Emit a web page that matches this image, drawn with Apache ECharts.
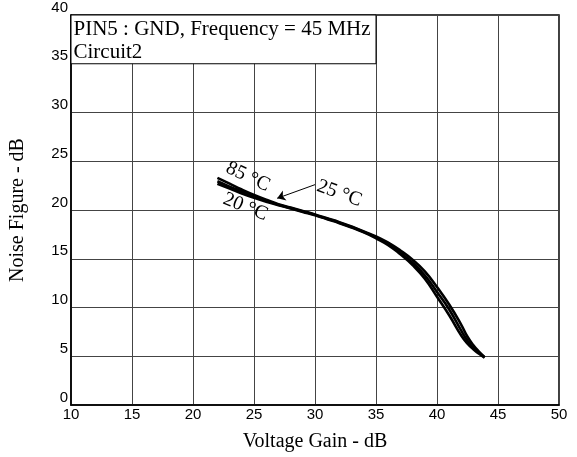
<!DOCTYPE html>
<html>
<head>
<meta charset="utf-8">
<script src="https://cdn.jsdelivr.net/npm/echarts@6/dist/echarts.min.js"></script>
<style>html,body{margin:0;padding:0;background:#fff;}#c{width:577px;height:457px;}</style>
</head>
<body>
<div id="c"></div>
<script>
const gainX = [22, 23, 24, 25, 26, 27, 28, 29, 30, 31, 32, 33, 34, 35, 36, 37, 38, 39, 40, 41, 42, 42.5, 43, 43.5, 43.9];
const nf85 = [23.3, 22.7, 22.1, 21.55, 21.05, 20.6, 20.25, 19.9, 19.55, 19.15, 18.75, 18.3, 17.8, 17.3, 16.65, 15.85, 14.9, 13.7, 12.1, 10.3, 8.2, 7.0, 6.1, 5.4, 4.9];
const nf25 = [22.95, 22.4, 21.9, 21.4, 20.95, 20.55, 20.2, 19.85, 19.5, 19.1, 18.7, 18.25, 17.75, 17.2, 16.5, 15.6, 14.6, 13.3, 11.6, 9.8, 7.6, 6.6, 5.8, 5.3, 4.9];
const nf20 = [22.7, 22.2, 21.7, 21.25, 20.85, 20.5, 20.15, 19.8, 19.45, 19.05, 18.65, 18.2, 17.7, 17.1, 16.4, 15.45, 14.35, 12.95, 11.1, 9.2, 7.1, 6.3, 5.7, 5.2, 4.85];
const xTicks = [10, 15, 20, 25, 30, 35, 40, 45, 50];
const yTicks = [0, 5, 10, 15, 20, 25, 30, 35, 40];
const titleLines = ['PIN5 : GND, Frequency = 45 MHz', 'Circuit2'];
const curveLabels = [
  { name: '85 °C', coord: [24.5, 23.4], rotate: -25 },
  { name: '20 °C', coord: [24.3, 20.3], rotate: -22 },
  { name: '25 °C', coord: [32.0, 21.7], rotate: -20 }
];
const arrowFrom = [30.0, 22.6];
const arrowTo = [26.9, 21.2];
const boxArea = [[10, 35], [35, 40]];

const pair = (xs, ys) => xs.map((x, i) => [x, ys[i]]);
const serif = '"Liberation Serif", "DejaVu Serif", serif';
const sans = '"Liberation Sans", Arial, sans-serif';

const ySplitColors = yTicks.map(v => v === 35 ? 'rgba(0,0,0,0)' : '#444');

const lineSeries = (name, data, extra) => Object.assign({
  name, type: 'line', data, smooth: true, symbol: 'none',
  lineStyle: { color: '#000', width: 2.6 }, z: 5
}, extra || {});

const chart = echarts.init(document.getElementById('c'), null, { renderer: 'canvas' });
chart.setOption({
  animation: false,
  backgroundColor: '#fff',
  grid: { left: 71, right: 18, top: 5, bottom: 50, show: true, borderColor: '#000', borderWidth: 1.5, backgroundColor: 'transparent' },
  xAxis: {
    type: 'value', min: 10, max: 50, interval: 5,
    name: 'Voltage Gain - dB', nameLocation: 'middle', nameGap: 27,
    nameTextStyle: { fontFamily: serif, fontSize: 20, color: '#000' },
    axisLine: { show: true, lineStyle: { color: '#000', width: 1.5 } },
    axisTick: { show: false },
    axisLabel: { fontFamily: sans, fontSize: 15, color: '#000', margin: 2 },
    splitLine: { show: true, lineStyle: { color: '#444', width: 1 } }
  },
  yAxis: {
    type: 'value', min: 0, max: 40, interval: 5,
    name: 'Noise Figure - dB', nameLocation: 'middle', nameGap: 43,
    nameTextStyle: { fontFamily: serif, fontSize: 20, color: '#000' },
    axisLine: { show: true, lineStyle: { color: '#000', width: 1.5 } },
    axisTick: { show: false },
    axisLabel: { fontFamily: sans, fontSize: 15, color: '#000', margin: 3, verticalAlign: 'bottom' },
    splitLine: { show: true, lineStyle: { color: ySplitColors, width: 1 } }
  },
  series: [
    lineSeries('85', pair(gainX, nf85), {
      markArea: {
        silent: true,
        itemStyle: { color: '#fff', borderColor: '#000', borderWidth: 1 },
        label: {
          show: true, position: 'insideTopLeft', distance: 3,
          formatter: titleLines.join('\n'),
          fontFamily: serif, fontSize: 21, color: '#000', lineHeight: 23
        },
        data: [[{ coord: boxArea[0] }, { coord: boxArea[1] }]]
      }
    }),
    lineSeries('25', pair(gainX, nf25)),
    lineSeries('20', pair(gainX, nf20), {
      markPoint: {
        silent: true, symbol: 'circle', symbolSize: 0,
        label: { show: true, fontFamily: serif, fontSize: 20, color: '#000', position: 'inside' },
        data: curveLabels.map(d => ({ name: d.name, coord: d.coord, label: { formatter: d.name, rotate: d.rotate } }))
      },
      markLine: {
        silent: true, symbol: ['none', 'arrow'], symbolSize: 8,
        lineStyle: { color: '#000', width: 1, type: 'solid', curveness: -0.6 },
        label: { show: false },
        data: [[{ coord: arrowFrom }, { coord: arrowTo }]]
      }
    })
  ]
});
</script>
</body>
</html>
